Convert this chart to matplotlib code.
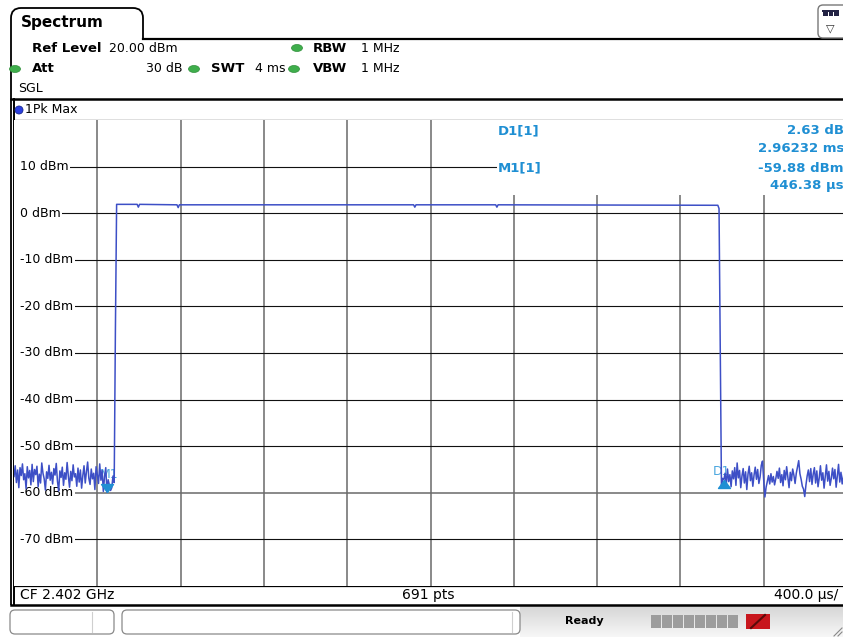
import numpy as np
import matplotlib
matplotlib.use("Agg")
import matplotlib.pyplot as plt
from matplotlib.patches import Rectangle, FancyBboxPatch, Ellipse, PathPatch
from matplotlib.path import Path
from matplotlib.transforms import blended_transform_factory
from matplotlib.colors import LinearSegmentedColormap

# analyzer setup
sweep_us = 4000.0
n_pts = 691
div_us = 400.0
ref_dbm = 20.0
db_div = 10.0
level_ticks = [10, 0, -10, -20, -30, -40, -50, -60, -70]

# trace 1 (1Pk Max), point index -> dBm
noise_left = [
    -56.5, -54.2, -57.8, -55.1, -58.9, -54.6, -56.3, -53.8, -57.2, -55.9, -59.1, -54.4,
    -56.8, -55.2, -58.3, -53.9, -57.6, -55.0, -56.1, -54.3, -58.7, -56.0, -57.9, -53.6,
    -55.8, -57.0, -59.4, -55.5, -56.9, -54.1, -57.3, -55.6, -58.1, -54.8, -56.2, -53.7,
    -57.5, -59.6, -55.3, -56.7, -54.5, -58.4, -55.7, -57.1, -53.5, -56.4, -58.8, -55.4,
    -57.4, -54.0, -56.6, -55.9, -58.6, -54.7, -57.7, -55.1, -59.0, -56.3, -54.2, -57.9,
    -55.5, -53.4, -56.9, -58.2, -54.9, -57.0, -55.8, -59.3, -54.4, -56.1, -58.0, -53.8,
    -57.3, -55.2, -59.7, -56.5, -54.6, -59.88, -57.2, -58.3, -59.5, -58.9, -56.4, -57.8,
]
rise_idx = [84]
rise_dbm = [-25.0]
top_idx = [85, 102, 103, 104, 135, 136, 137, 331, 332, 333, 399, 400, 401, 583, 584]
top_dbm = [1.9, 1.9, 1.3, 1.9, 1.8, 1.2, 1.8, 1.8, 1.3, 1.8, 1.8, 1.3, 1.8, 1.7, 1.0]
fall_idx = [585]
fall_dbm = [-28.0]
right_start = 586
noise_right = [
    -58.5, -56.9, -57.25, -55.8, -58.2, -54.9, -57.6, -56.1, -58.7, -55.3, -57.0, -54.6, -58.4, -53.6, -56.8,
    -55.2, -58.9, -56.4, -54.8, -57.9, -55.5, -59.3, -56.0, -54.3, -57.4, -55.7, -58.6, -56.2, -54.5, -57.1,
    -55.0, -58.0, -56.6, -54.1, -53.2, -57.3, -60.9, -58.8, -57.5, -56.3, -58.1, -55.9, -57.7, -56.5, -58.3,
    -57.0, -55.4, -56.9, -54.7, -57.8, -56.1, -58.5, -55.2, -57.2, -54.4, -56.7, -58.9, -55.6, -57.4, -54.9,
    -56.2, -58.0, -55.8, -54.5, -53.1, -55.9, -57.1, -58.6, -59.2, -60.8, -58.3, -56.4, -55.1, -57.6, -54.8,
    -58.2, -56.0, -54.6, -57.9, -55.3, -58.7, -56.8, -54.2, -57.3, -55.7, -59.0, -56.5, -54.0, -57.5, -55.4,
    -58.4, -56.9, -54.7, -57.0, -55.0, -58.8, -56.3, -53.9, -57.7, -55.6, -58.1, -56.6, -54.3, -57.2, -55.5,
]

# marker readout
m1_us = 446.38
m1_dbm = -59.88
d1_dt_us = 2962.32
d1_ddb = 2.63

TRACE = "#3d4fc6"
MK = "#1f8fd3"
MK_LBL = "#49a6df"
GREEN = "#3fae4c"

idx = np.concatenate([np.arange(len(noise_left)), rise_idx, top_idx, fall_idx,
                      right_start + np.arange(len(noise_right))])
vals = np.concatenate([noise_left, rise_dbm, top_dbm, fall_dbm, noise_right])
t_us = idx * sweep_us / (n_pts - 1)

fig = plt.figure(figsize=(8.43, 6.37), dpi=100)
fig.patch.set_facecolor("white")

# pixel canvas for the instrument chrome
ui = fig.add_axes([0, 0, 1, 1])
ui.set_zorder(0)
ui.axis("off")

# status bar background
grad = LinearSegmentedColormap.from_list("sb", ["#d6d6d6", "#f7f7f7"])
ui.imshow(np.linspace(0, 1, 32)[:, None], extent=[520, 843, 637, 606], cmap=grad,
          aspect="auto", zorder=0)

# Spectrum tab + outer frame
tab = Path([(11, 605), (11, 18), (11, 8), (21, 8), (133, 8), (143, 8), (143, 18), (143, 39), (843, 39)],
           [Path.MOVETO, Path.LINETO, Path.CURVE3, Path.CURVE3, Path.LINETO, Path.CURVE3, Path.CURVE3,
            Path.LINETO, Path.LINETO])
ui.add_patch(PathPatch(tab, fill=False, ec="black", lw=1.3, zorder=2))
ui.plot([143, 843], [39, 39], color="black", lw=1.6, zorder=2)
ui.text(21, 23, "Spectrum", fontsize=11, fontweight="bold", va="center", ha="left")

# icon top right
ui.add_patch(FancyBboxPatch((818, 5), 30, 33, boxstyle="round,pad=0,rounding_size=5",
                            fc="white", ec="#777777", lw=1.0, zorder=2))
for k in range(3):
    ui.add_patch(Rectangle((823 + k * 5.5, 11), 4.5, 5, fc="#222244", ec="none", zorder=3))
ui.add_patch(Rectangle((822, 10), 17, 1.5, fc="#222244", ec="none", zorder=3))
ui.text(830.5, 28, "\u25bd", fontsize=8, ha="center", va="center", color="#333333", zorder=3)

# header
hs = 9.5
vs = 9
ui.text(32, 48, "Ref Level", fontsize=hs, fontweight="bold", va="center")
ui.text(109, 48, "20.00 dBm", fontsize=vs, va="center")
ui.text(313, 48, "RBW", fontsize=hs, fontweight="bold", va="center")
ui.text(361, 48, "1 MHz", fontsize=vs, va="center")
ui.text(32, 69, "Att", fontsize=hs, fontweight="bold", va="center")
ui.text(182, 69, "30 dB", fontsize=vs, va="center", ha="right")
ui.text(211, 69, "SWT", fontsize=hs, fontweight="bold", va="center")
ui.text(255, 69, "4 ms", fontsize=vs, va="center")
ui.text(313, 69, "VBW", fontsize=hs, fontweight="bold", va="center")
ui.text(361, 69, "1 MHz", fontsize=vs, va="center")
ui.text(18, 88, "SGL", fontsize=vs, va="center")
for cx, cy in [(297, 48), (15, 69), (194, 69), (294, 69)]:
    ui.add_patch(Ellipse((cx, cy), 11, 7, fc=GREEN, ec="#2f8f3a", lw=0.5, zorder=3))

# trace window frame
ui.plot([11, 843], [98.5, 98.5], color="black", lw=1.8, zorder=2)
ui.plot([14, 14], [99, 605], color="black", lw=1.4, zorder=2)
ui.plot([14, 843], [119.5, 119.5], color="black", lw=0.9, zorder=2)
ui.plot([14, 843], [586, 586], color="black", lw=0.9, zorder=2)
ui.plot([11, 843], [604.5, 604.5], color="black", lw=1.8, zorder=2)
ui.add_patch(Ellipse((19, 110), 8, 8, fc="#2b3fe0", ec="#1a2a90", lw=0.6, zorder=3))
ui.text(25, 109.5, "1Pk Max", fontsize=9, va="center")

# bottom info row
ui.text(20, 595, "CF 2.402 GHz", fontsize=10, va="center")
ui.text(428, 595, f"{n_pts} pts", fontsize=10, va="center", ha="center")
ui.text(838, 595, f"{div_us:.1f} \u00b5s/", fontsize=10, va="center", ha="right")

# status bar
for x0, w, dv in [(10, 104, 92), (122, 398, 512)]:
    ui.add_patch(FancyBboxPatch((x0, 610), w, 24, boxstyle="round,pad=0,rounding_size=5",
                                fc="white", ec="#8a8a8a", lw=0.9, zorder=2))
    ui.plot([dv, dv], [612, 632], color="#cfcfcf", lw=0.8, zorder=3)
ui.text(584, 621, "Ready", fontsize=8, fontweight="bold", ha="center", va="center")
for k in range(8):
    ui.add_patch(Rectangle((651 + k * 11, 615), 10, 13, fc="#9c9c9c", ec="none", zorder=2))
ui.add_patch(Rectangle((746, 614), 24, 15, fc="#c8161d", ec="none", zorder=2))
ui.plot([751, 765], [628, 615], color="#5a0a0a", lw=1.5, zorder=3)
ui.plot([834, 842], [636, 628], color="#888888", lw=0.8, zorder=3)
ui.plot([838, 842], [636, 632], color="#888888", lw=0.8, zorder=3)

ui.set_xlim(0, 843)
ui.set_ylim(637, 0)

# diagram
ax = fig.add_axes([14 / 843, 51 / 637, 833 / 843, 466 / 637])
ax.set_zorder(1)
ax.set_facecolor("white")
for s in ax.spines.values():
    s.set_visible(False)
ax.set_xticks([])
ax.set_yticks([])

grid_x = np.arange(div_us, sweep_us, div_us)
ax.vlines(grid_x, ref_dbm - 10 * db_div, ref_dbm, color="#6a6a6a", lw=1.1, zorder=1)
for v in level_ticks:
    c = "#6a6a6a" if v == -60 else "#111111"
    w = 1.1 if v == -60 else 0.8
    ax.axhline(v, color=c, lw=w, zorder=1)

# level labels sit in a white margin strip on the left
ax.add_patch(Rectangle((14, 119), 6, 468, transform=ui.transData, fc="white", ec="none", zorder=2))
lbl_tr = blended_transform_factory(ui.transData, ax.transData)
for v in level_ticks:
    ax.text(20, v, f"{v} dBm", transform=lbl_tr, fontsize=9, va="center", ha="left",
            zorder=3, bbox=dict(fc="white", ec="none", pad=1.0))

# marker info box
ax.add_patch(Rectangle((497, 118), 360, 77, transform=ui.transData, fc="white", ec="none", zorder=2))
rx = 844
ax.text(498, 131, "D1[1]", transform=ui.transData, fontsize=9.5, fontweight="bold", color=MK,
        va="center", zorder=3)
ax.text(498, 168, "M1[1]", transform=ui.transData, fontsize=9.5, fontweight="bold", color=MK,
        va="center", zorder=3)
ax.text(rx, 131, f"{d1_ddb:.2f} dB", transform=ui.transData, fontsize=9.5, fontweight="bold",
        color=MK, va="center", ha="right", zorder=3)
ax.text(rx, 149, f"{d1_dt_us / 1000:.5f} ms", transform=ui.transData, fontsize=9.5,
        fontweight="bold", color=MK, va="center", ha="right", zorder=3)
ax.text(rx, 168, f"{m1_dbm:.2f} dBm", transform=ui.transData, fontsize=9.5, fontweight="bold",
        color=MK, va="center", ha="right", zorder=3)
ax.text(rx, 186, f"{m1_us:.2f} \u00b5s", transform=ui.transData, fontsize=9.5, fontweight="bold",
        color=MK, va="center", ha="right", zorder=3)

# trace
ax.plot(t_us, vals, color=TRACE, lw=1.1, zorder=4)

# markers: apex on the trace point
tri_down = [(0, 0), (-0.75, 1), (0.75, 1), (0, 0)]
tri_up = [(0, 0), (-0.75, -1), (0.75, -1), (0, 0)]
d1_us = m1_us + d1_dt_us
d1_dbm = m1_dbm + d1_ddb
ax.plot([m1_us], [m1_dbm], marker=tri_down, ms=11.5, color=MK, mec=MK, ls="none", zorder=5)
ax.plot([d1_us], [d1_dbm], marker=tri_up, ms=11.5, color=MK, mec=MK, ls="none", zorder=5)
ax.annotate("M1", (m1_us, m1_dbm), xytext=(1.5, 13), textcoords="offset points", fontsize=9,
            color=MK_LBL, ha="center", va="center", zorder=3)
ax.annotate("D1", (d1_us, d1_dbm), xytext=(-1.5, 6), textcoords="offset points", fontsize=9,
            color=MK_LBL, ha="center", va="center", zorder=3)

ax.set_xlim(0, sweep_us)
ax.set_ylim(ref_dbm - 10 * db_div, ref_dbm)

fig.savefig("out.png", dpi=100)
